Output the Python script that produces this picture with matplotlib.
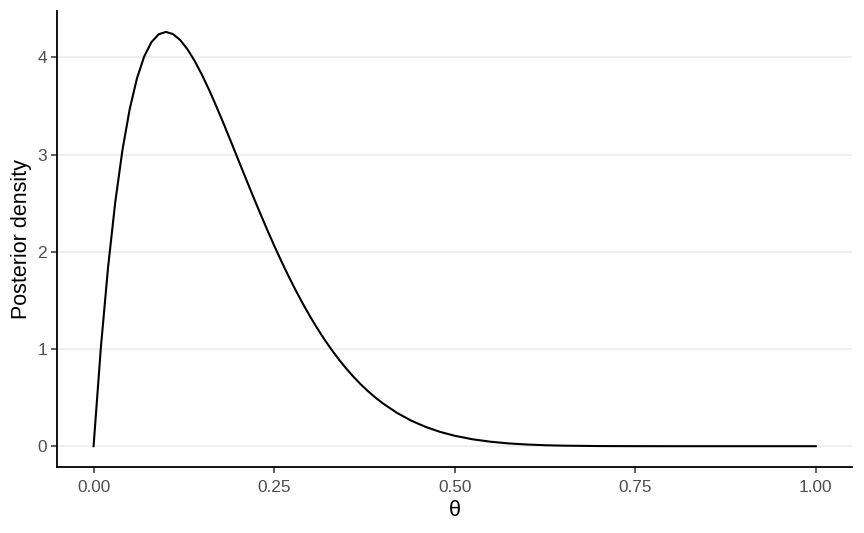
import matplotlib
matplotlib.use("Agg")
import matplotlib.pyplot as plt

plt.rcParams["font.family"] = ["Liberation Sans", "DejaVu Sans"]

theta = [0.00, 0.01, 0.02, 0.03, 0.04, 0.05, 0.06, 0.07, 0.08, 0.09,
         0.10, 0.11, 0.12, 0.13, 0.14, 0.15, 0.16, 0.17, 0.18, 0.19,
         0.20, 0.21, 0.22, 0.23, 0.24, 0.25, 0.26, 0.27, 0.28, 0.29,
         0.30, 0.31, 0.32, 0.33, 0.34, 0.35, 0.36, 0.37, 0.38, 0.39,
         0.40, 0.42, 0.44, 0.46, 0.48, 0.50, 0.525, 0.55, 0.575, 0.60,
         0.625, 0.65, 0.70, 0.75, 0.80, 0.85, 0.90, 0.95, 1.00]
density = [0.0, 1.0049, 1.8343, 2.5088, 3.0471, 3.4664, 3.7817, 4.0072, 4.1550, 4.2365,
           4.2616, 4.2394, 4.1775, 4.0832, 3.9629, 3.8217, 3.6647, 3.4958, 3.3189, 3.1369,
           2.9528, 2.7685, 2.5863, 2.4079, 2.2337, 2.0648, 1.9032, 1.7487, 1.6018, 1.4628,
           1.3317, 1.2090, 1.0945, 0.9879, 0.8890, 0.7974, 0.7134, 0.6361, 0.5658, 0.5018,
           0.4434, 0.3433, 0.2622, 0.1976, 0.1468, 0.1074, 0.0707, 0.0458, 0.0284, 0.0173,
           0.0100, 0.0056, 0.0015, 0.0003, 0.00005, 0.0, 0.0, 0.0, 0.0]
x_ticks = [0.00, 0.25, 0.50, 0.75, 1.00]
x_labels = ["0.00", "0.25", "0.50", "0.75", "1.00"]
y_ticks = [0, 1, 2, 3, 4]

fig = plt.figure(figsize=(8.64, 5.33), dpi=100)
ax = fig.add_axes([0.0665, 0.124, 0.9195, 0.855])

for yt in y_ticks:
    ax.axhline(yt, color="#EBEBEB", lw=1.1, zorder=0)

ax.plot(theta, density, color="black", lw=1.5, zorder=2)

ax.set_xlim(-0.05, 1.05)
ymax = max(density)
ax.set_ylim(-0.05 * ymax, ymax * 1.05)
ax.set_xticks(x_ticks)
ax.set_xticklabels(x_labels)
ax.set_yticks(y_ticks)

for s in ["top", "right"]:
    ax.spines[s].set_visible(False)
for s in ["left", "bottom"]:
    ax.spines[s].set_linewidth(1.3)
    ax.spines[s].set_color("black")

ax.tick_params(axis="both", colors="#333333", labelcolor="#4D4D4D",
               labelsize=12.4, length=4, width=1.1)
ax.tick_params(axis="x", pad=5.5)
ax.tick_params(axis="y", pad=3.5)

ax.set_xlabel("θ", fontsize=15.5, color="black", labelpad=3.5)
ax.set_ylabel("Posterior density", fontsize=15.5, color="black", labelpad=4)

fig.savefig("out.png", dpi=100)
